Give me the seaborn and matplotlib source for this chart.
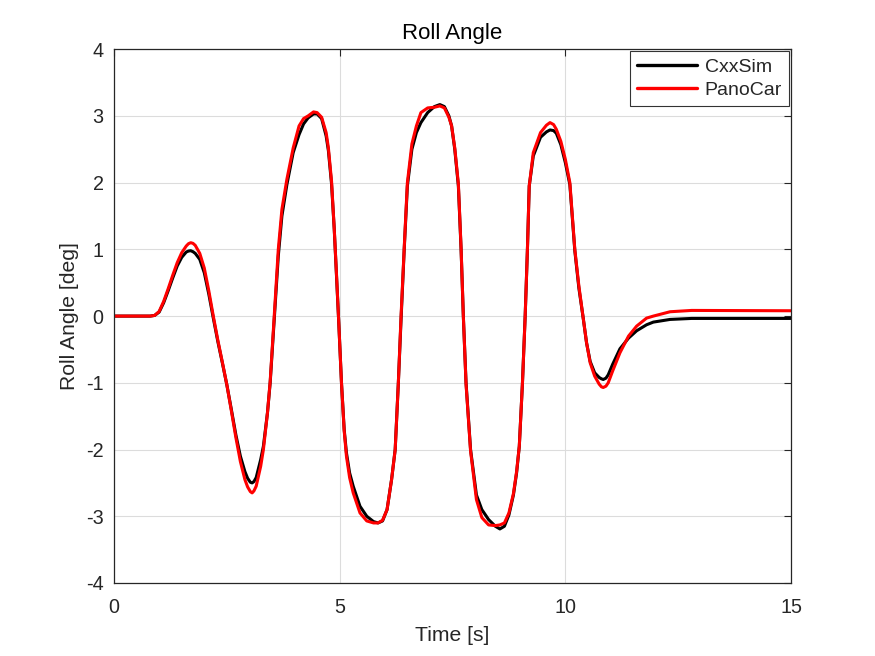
import pandas as pd
import numpy as np
import matplotlib
matplotlib.use('Agg')
import matplotlib.pyplot as plt
import seaborn as sns

# values
time_s = [0.0, 0.5, 0.8, 0.9, 1.0, 1.1, 1.2, 1.3, 1.4, 1.5, 1.6, 1.65, 1.7, 1.75, 1.8, 1.9,
          2.0, 2.1, 2.2, 2.3, 2.4, 2.5, 2.6, 2.7, 2.8, 2.9, 2.96, 3.02, 3.06, 3.1, 3.15, 3.25,
          3.31, 3.4, 3.46, 3.55, 3.64, 3.72, 3.83, 3.97, 4.1, 4.2, 4.3, 4.42, 4.5,
          4.6, 4.7, 4.75, 4.82, 4.88, 4.93, 4.98, 5.04, 5.1, 5.15, 5.22, 5.3, 5.45,
          5.6, 5.75, 5.85, 5.95, 6.05, 6.15, 6.23, 6.3, 6.36, 6.43, 6.5, 6.6, 6.7,
          6.8, 6.95, 7.1, 7.22, 7.32, 7.42, 7.48, 7.55, 7.63, 7.69, 7.74, 7.8, 7.9,
          8.03, 8.15, 8.3, 8.45, 8.55, 8.65, 8.75, 8.85, 8.92, 8.98, 9.05, 9.11,
          9.16, 9.2, 9.29, 9.45, 9.58, 9.66, 9.74, 9.8, 9.9, 10.0, 10.1, 10.21, 10.3,
          10.4, 10.47, 10.55, 10.65, 10.75, 10.8, 10.84, 10.9, 10.95, 11.05, 11.21, 11.4,
          11.58, 11.8, 11.95, 12.32, 12.8, 15.0]

cxxsim = [0.0, 0.0, 0.0, 0.01, 0.06, 0.2, 0.38, 0.57, 0.75, 0.88, 0.96, 0.975, 0.98, 0.965, 0.94, 0.85,
          0.65, 0.33, -0.03, -0.38, -0.7, -1.03, -1.4, -1.78, -2.1, -2.33, -2.43, -2.49, -2.5, -2.48, -2.42, -2.15,
          -1.95, -1.45, -1.0, -0.05, 0.9, 1.5, 1.97, 2.45, 2.72, 2.88, 2.97, 3.03, 3.03,
          2.96, 2.7, 2.48, 1.98, 1.3, 0.6, -0.1, -1.0, -1.7, -2.05, -2.35, -2.55, -2.85,
          -3.0, -3.08, -3.1, -3.07, -2.9, -2.45, -2.0, -1.0, -0.05, 1.0, 1.95, 2.5, 2.75,
          2.9, 3.05, 3.14, 3.17, 3.14, 3.0, 2.85, 2.5, 1.95, 1.0, 0.0, -1.0, -2.0,
          -2.68, -2.9, -3.05, -3.15, -3.19, -3.15, -2.98, -2.68, -2.35, -1.95, -1.0, 0.0,
          1.0, 1.95, 2.4, 2.68, 2.76, 2.79, 2.78, 2.74, 2.57, 2.3, 1.97, 0.98, 0.42,
          -0.05, -0.4, -0.68, -0.85, -0.92, -0.94, -0.95, -0.93, -0.88, -0.72, -0.49, -0.33,
          -0.22, -0.13, -0.09, -0.05, -0.035, -0.035]

panocar = [0.0, 0.0, 0.0, 0.01, 0.07, 0.22, 0.41, 0.61, 0.8, 0.95, 1.05, 1.085, 1.1, 1.09, 1.06, 0.94,
           0.72, 0.38, 0.0, -0.36, -0.69, -1.03, -1.42, -1.82, -2.18, -2.45, -2.56, -2.63, -2.65, -2.62, -2.55, -2.25,
           -2.0, -1.45, -0.98, 0.0, 1.0, 1.6, 2.05, 2.52, 2.85, 2.96, 3.0, 3.06, 3.05,
           2.98, 2.75, 2.52, 2.02, 1.3, 0.62, -0.1, -1.0, -1.72, -2.1, -2.42, -2.65, -2.95,
           -3.07, -3.1, -3.1, -3.06, -2.9, -2.45, -2.0, -1.0, 0.0, 1.02, 2.0, 2.58, 2.85,
           3.05, 3.12, 3.13, 3.15, 3.12, 2.98, 2.85, 2.52, 1.98, 1.02, 0.0, -1.02, -2.02,
           -2.75, -3.02, -3.13, -3.14, -3.13, -3.1, -2.95, -2.66, -2.33, -1.95, -1.0, 0.0,
           1.0, 1.95, 2.45, 2.75, 2.86, 2.9, 2.87, 2.8, 2.62, 2.35, 2.0, 1.0, 0.45,
           -0.05, -0.4, -0.7, -0.9, -1.02, -1.06, -1.07, -1.05, -1.0, -0.82, -0.55, -0.3,
           -0.15, -0.03, 0.0, 0.065, 0.085, 0.08]

series_names = ['CxxSim', 'PanoCar']

df = pd.concat([
    pd.DataFrame({'Time': time_s, 'Roll': cxxsim, 'Source': series_names[0]}),
    pd.DataFrame({'Time': time_s, 'Roll': panocar, 'Source': series_names[1]}),
])

sns.set_style('white')
plt.rcParams['font.family'] = ['Liberation Sans', 'DejaVu Sans']
plt.rcParams['axes.unicode_minus'] = False

fig = plt.figure(figsize=(8.75, 6.56), dpi=100)
ax = fig.add_axes([0.1303, 0.1113, 0.7737, 0.8137])

sns.lineplot(data=df, x='Time', y='Roll', hue='Source', palette=['black', 'red'],
             linewidth=2.2, estimator=None, sort=False, ax=ax,
             solid_joinstyle='round', solid_capstyle='round')

ax.set_xlim(0, 15)
ax.set_ylim(-4, 4)
ax.set_xticks([0, 5, 10, 15])
ax.set_yticks(np.arange(-4, 5, 1))
ax.grid(True, color='#dcdcdc', linewidth=0.8)
ax.set_axisbelow(True)

dark = '#262626'
for s in ax.spines.values():
    s.set_color(dark)
    s.set_linewidth(0.9)
ax.tick_params(direction='in', length=5, width=0.8, top=True, right=True,
               labelsize=14.2, colors=dark)
ax.tick_params(axis='x', pad=10.5)
ax.tick_params(axis='y', pad=7.5)

ax.set_title('Roll Angle', fontsize=16, color='black', pad=7.5)
ax.set_xlabel('Time [s]', fontsize=15.2, color=dark, labelpad=7)
ax.set_ylabel('Roll Angle [deg]', fontsize=15.2, color=dark, labelpad=5)

leg = ax.legend(loc='upper right', fontsize=14, frameon=True, fancybox=False,
                borderaxespad=0.1, handlelength=3.1, handletextpad=0.4,
                borderpad=0.35, labelspacing=0.3, title=None)
leg.get_frame().set_edgecolor('black')
leg.get_frame().set_linewidth(0.8)
for line in leg.get_lines():
    line.set_linewidth(2.4)

plt.savefig('out.png', dpi=100)
